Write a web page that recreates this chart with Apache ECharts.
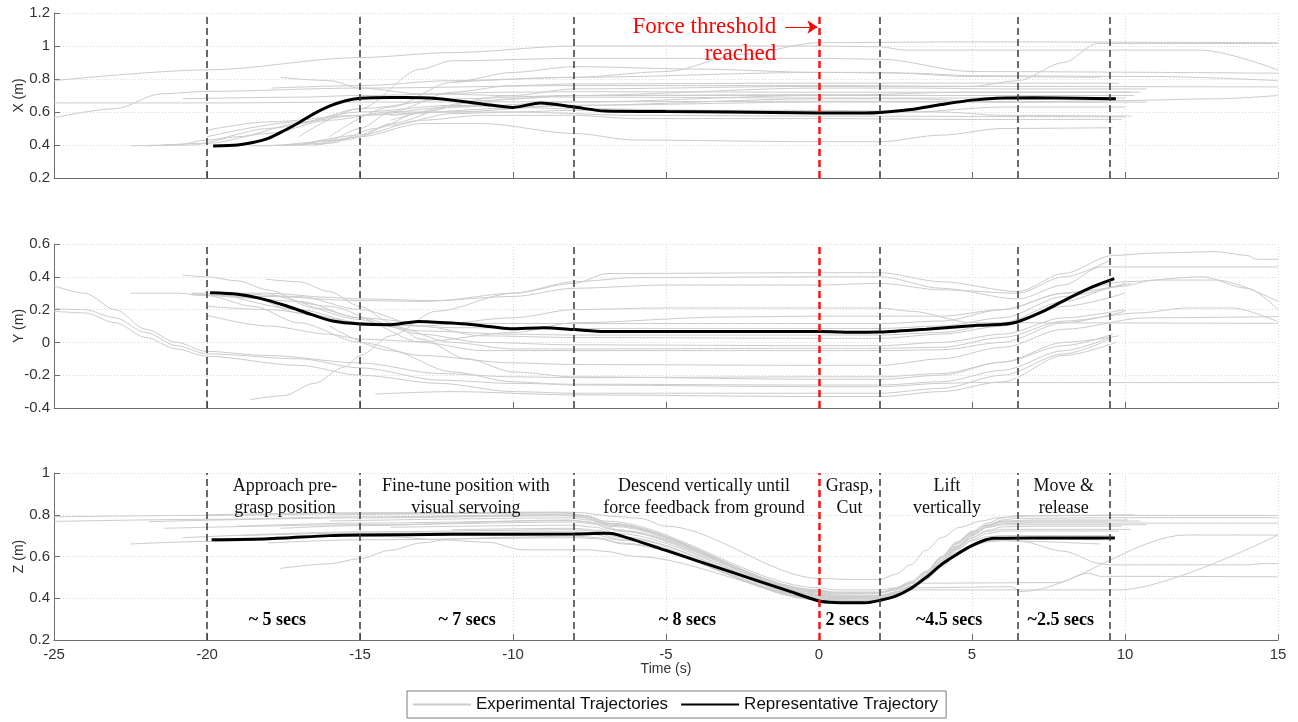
<!DOCTYPE html>
<html><head><meta charset="utf-8">
<script src="https://cdn.jsdelivr.net/npm/echarts/dist/echarts.min.js"></script>
<style>html,body{margin:0;padding:0;background:#fff}#chart{width:1298px;height:722px}</style>
</head><body><div id="chart"></div>
<script>
// ---------------- data ----------------
const timeRange = [-25, 15];
const timeStep = 5;
const panelNames = ['X (m)', 'Y (m)', 'Z (m)'];
const panelMins = [0.2, -0.4, 0.2];
const panelMaxs = [1.2, 0.6, 1.0];
const panelStep = 0.2;

const phaseBounds = [-20, -15, -8, 2, 6.5, 9.5];
const forceTime = 0;

const phaseLabels = ['Approach pre-\ngrasp position', 'Fine-tune position with\nvisual servoing', 'Descend vertically until\nforce feedback from ground', 'Grasp,\nCut', 'Lift\nvertically', 'Move &\nrelease'];
const phaseLabelTimes = [-17.45, -11.54, -3.76, 1.0, 4.18, 8.0];
const phaseLabelLevel = 0.885;
const durationLabels = ['~ 5 secs', '~ 7 secs', '~ 8 secs', '2 secs', '~4.5 secs', '~2.5 secs'];
const durationTimes = [-17.7, -11.5, -4.3, 0.92, 4.25, 7.9];
const durationLevel = 0.292;

const forceText = 'Force threshold\nreached';
const forceTextAt = [-1.4, 1.033];
const forceArrow = [[-1.1, 1.115], [-0.05, 1.115]];

const xRepresentative = [[-19.8,0.394],[-19,0.4],[-18.5,0.415],[-18,0.44],[-17.5,0.485],[-17,0.535],[-16.5,0.59],[-16,0.635],[-15.5,0.667],[-15,0.683],[-14,0.688],[-13,0.686],[-12.5,0.682],[-12,0.672],[-11,0.649],[-10,0.628],[-9.1,0.655],[-8,0.63],[-7,0.606],[-5,0.603],[-3,0.6],[0,0.594],[1.5,0.594],[2,0.597],[3,0.615],[4,0.645],[5,0.672],[5.8,0.684],[7,0.686],[8.5,0.684],[9.7,0.68]];
const yRepresentative = [[-19.9,0.302],[-19,0.293],[-18.3,0.27],[-17.5,0.228],[-16.6,0.171],[-15.9,0.13],[-15,0.112],[-14,0.108],[-13.1,0.128],[-12,0.118],[-11,0.102],[-10.1,0.083],[-9,0.09],[-8,0.078],[-7,0.066],[-4,0.066],[0,0.066],[1.3,0.062],[2,0.063],[3.5,0.08],[5.2,0.104],[6,0.11],[6.5,0.126],[7.3,0.187],[8.1,0.264],[8.95,0.34],[9.65,0.389]];
const zRepresentative = [[-19.85,0.68],[-18,0.685],[-16,0.7],[-15,0.703],[-12,0.706],[-8,0.708],[-7,0.711],[-6.6,0.705],[-5,0.629],[-3,0.532],[-1,0.435],[0,0.387],[0.5,0.38],[1.5,0.378],[2,0.39],[2.5,0.41],[3,0.447],[3.5,0.5],[4.05,0.567],[4.5,0.61],[4.93,0.647],[5.3,0.672],[5.7,0.687],[7,0.689],[9.67,0.689]];

const xExperimental = [
  [[-25,0.79],[-20,0.855],[-15,0.93],[-12,0.96],[-8,1.0],[0,1.0],[2,0.995],[2.8,0.975],[12.5,0.975],[15,0.855]],
  [[-25,0.565],[-23,0.62],[-21.5,0.71],[-20,0.725],[-15,0.745],[-8,0.76],[0,0.76],[5,0.755],[15,0.752]],
  [[-25,0.655],[-20,0.655],[-15,0.66],[-8,0.662],[0,0.665],[9.4,0.66]],
  [[-22.5,0.395],[-21,0.4],[-20,0.43],[-18,0.5],[-15,0.6],[-12,0.64],[-8,0.62],[0,0.6],[3,0.6],[6,0.63],[10,0.63]],
  [[-22,0.395],[-20.5,0.4],[-19,0.45],[-17,0.53],[-15,0.62],[-12,0.68],[-8,0.7],[0,0.7],[5,0.72],[10.5,0.72]],
  [[-21.5,0.4],[-20,0.41],[-18,0.47],[-16,0.55],[-14,0.6],[-10,0.6],[-6,0.58],[0,0.575],[10,0.57]],
  [[-20.8,0.68],[-17,0.69],[-15,0.7],[-10,0.72],[-8,0.723],[0,0.72],[6,0.72],[10.2,0.72]],
  [[-18.6,0.395],[-17,0.4],[-16,0.43],[-15,0.5],[-14,0.6],[-12,0.72],[-10,0.76],[-8,0.77],[0,0.775],[4,0.775],[9.8,0.775]],
  [[-18.4,0.395],[-16.5,0.4],[-15,0.45],[-14,0.53],[-12,0.63],[-10,0.68],[-8,0.7],[0,0.705],[4,0.7],[10.3,0.7]],
  [[-18,0.395],[-16,0.41],[-14.5,0.5],[-13,0.6],[-11,0.67],[-8,0.7],[0,0.745],[3,0.745],[6,0.74],[10.7,0.74]],
  [[-17.5,0.4],[-15.5,0.43],[-14,0.52],[-12,0.59],[-10,0.6],[-8,0.61],[0,0.61],[4,0.6],[6,0.58],[10.2,0.575]],
  [[-17,0.4],[-15,0.46],[-13,0.55],[-11,0.58],[-8,0.58],[-6,0.56],[0,0.56],[5,0.555],[9.9,0.555]],
  [[-16.5,0.4],[-15,0.45],[-13,0.53],[-11,0.53],[-8,0.47],[-6,0.43],[0,0.42],[2,0.42],[4,0.46],[6,0.5],[9.6,0.505]],
  [[-17.9,0.745],[-15,0.76],[-12,0.79],[-8,0.81],[0,0.84],[2,0.84],[5,0.815],[9.2,0.81]],
  [[-17.6,0.81],[-16,0.79],[-15,0.745],[-13,0.71],[-8,0.69],[0,0.685],[6,0.685],[10,0.685]],
  [[-17,0.45],[-15,0.62],[-13,0.86],[-12,0.91],[-8,0.925],[0,0.925],[2,0.92],[5,0.845],[15,0.835]],
  [[-16,0.45],[-14,0.63],[-12,0.78],[-10,0.84],[-8,0.875],[-4,0.86],[0,0.84],[3,0.835],[5,0.82],[11,0.815],[15,0.79]],
  [[-12,0.78],[-8,0.81],[-5,0.845],[-2.5,0.95],[0,1.02],[5,1.025],[15,1.02]],
  [[-14,0.55],[-10,0.7],[-8,0.74],[0,0.755],[5,0.755],[6.5,0.79],[8,0.9],[9.1,1.015],[15,1.015]],
  [[-20,0.49],[-18,0.54],[-15,0.58],[-12,0.6],[-8,0.64],[0,0.68],[3,0.68],[6,0.66],[10.7,0.66]],
  [[-20,0.45],[-17,0.54],[-15,0.58],[-12,0.63],[-8,0.66],[0,0.7],[5,0.7],[9.9,0.7]],
  [[-14,0.58],[-8,0.64],[0,0.66],[6,0.66],[10,0.67],[13,0.68],[15,0.7]]
];

const yExperimental = [
  [[-25,0.345],[-24,0.3],[-23,0.2],[-22,0.08],[-21,0.0],[-20,-0.055],[-18,-0.08],[-15,-0.125],[-12.4,-0.19],[-10,-0.21],[-8,-0.215],[0,-0.21],[2,-0.21],[4,-0.19],[6,-0.12],[8,-0.02],[9.6,0.05]],
  [[-25,0.205],[-24,0.2],[-23,0.15],[-22,0.06],[-21,-0.02],[-20,-0.07],[-17,-0.1],[-15,-0.155],[-12.4,-0.23],[-10,-0.25],[-8,-0.255],[0,-0.26],[2,-0.26],[4,-0.24],[6,-0.17],[8,-0.05],[9.5,0.03]],
  [[-25,0.19],[-24,0.18],[-23,0.12],[-22,0.03],[-21,-0.04],[-20,-0.085],[-17,-0.14],[-15,-0.2],[-12.4,-0.25],[-10,-0.3],[-8,-0.31],[0,-0.31],[2,-0.31],[4,-0.28],[6,-0.2],[8,-0.07],[9.5,0.02]],
  [[-22.5,0.3],[-21,0.3],[-20,0.285],[-18.5,0.22],[-17,0.12],[-15,0.0],[-13,-0.08],[-10,-0.125],[-8,-0.135],[0,-0.14],[2,-0.14],[4,-0.1],[6,-0.03],[8,0.08],[10.7,0.15],[15,0.157]],
  [[-20.8,0.41],[-20,0.4],[-19,0.375],[-18,0.32],[-16.5,0.21],[-15,0.15],[-13,0.12],[-10,0.115],[-8,0.115],[0,0.115],[2,0.115],[4,0.13],[6,0.2],[8,0.3],[10.2,0.36]],
  [[-18.1,0.386],[-17,0.37],[-16,0.31],[-15,0.22],[-14,0.12],[-13,0.02],[-11.5,-0.1],[-10,-0.18],[-8,-0.21],[0,-0.225],[2,-0.225],[4,-0.2],[6,-0.12],[8,0.0],[9.8,0.04]],
  [[-18.6,-0.35],[-17.5,-0.325],[-16.5,-0.25],[-15.5,-0.15],[-15,-0.08],[-14,0.04],[-12.5,0.19],[-10,0.3],[-8,0.36],[-6.9,0.42],[0,0.425],[2,0.425],[4,0.37],[6.5,0.31],[8,0.42],[9.6,0.53],[11,0.545],[13,0.553],[14,0.53],[14.3,0.507],[15,0.507]],
  [[-14.5,-0.315],[-12,-0.3],[-8,-0.32],[0,-0.33],[2,-0.33],[4,-0.3],[6,-0.24],[8,-0.08],[9.7,0.0]],
  [[-20.5,0.3],[-18,0.3],[-16,0.275],[-15,0.265],[-12.5,0.255],[-10,0.3],[-8,0.37],[-6,0.395],[0,0.4],[2,0.4],[4,0.33],[6.5,0.265],[8,0.35],[9.2,0.46],[15,0.46]],
  [[-20.5,0.29],[-18,0.28],[-15,0.255],[-13,0.25],[-10,0.28],[-8,0.33],[-5,0.35],[0,0.35],[2,0.36],[4,0.32],[6.5,0.3],[8,0.4],[9.5,0.5]],
  [[-20.5,0.3],[-18.5,0.27],[-17,0.18],[-15,0.12],[-13,0.1],[-10,0.15],[-8,0.2],[-5,0.21],[0,0.21],[2,0.21],[3,0.19],[5,0.12],[15,0.116]],
  [[-20,0.165],[-18,0.1],[-16,0.05],[-15,0.02],[-13,0.005],[-10,0.06],[-8,0.12],[-3,0.155],[0,0.16],[2,0.16],[4,0.16],[6,0.2],[8,0.3],[10,0.37],[12.5,0.4],[14,0.33],[15,0.2]],
  [[-19,0.27],[-17,0.2],[-15,0.12],[-13,0.07],[-10,0.05],[-8,0.045],[0,0.045],[2,0.045],[4,0.06],[6,0.12],[8,0.25],[9.8,0.34],[11,0.38],[13,0.38],[15,0.25]],
  [[-19,0.3],[-17,0.28],[-15,0.2],[-13,0.1],[-11,0.04],[-8,0.03],[0,0.025],[2,0.025],[4,0.05],[6,0.1],[8,0.22],[10,0.3]],
  [[-19.5,0.29],[-17,0.25],[-15,0.15],[-13,0.05],[-11,0.0],[-8,-0.015],[0,-0.02],[2,-0.02],[4,0.0],[6,0.05],[8,0.15],[10,0.2]],
  [[-18,0.3],[-16,0.22],[-14,0.1],[-12,0.0],[-10,-0.04],[-8,-0.04],[0,-0.036],[2,-0.036],[4,-0.03],[6,0.03],[8,0.13],[10.5,0.18],[12,0.21],[13.5,0.21],[15,0.126]],
  [[-17,0.25],[-15,0.14],[-13,0.0],[-11,-0.05],[-8,-0.05],[0,-0.05],[2,-0.05],[4,-0.045],[6,0.0],[8,0.12],[10,0.19]],
  [[-16,0.1],[-14,-0.05],[-12,-0.18],[-10,-0.24],[-8,-0.26],[0,-0.27],[2,-0.27],[4,-0.25],[5,-0.245],[15,-0.245]],
  [[-20,0.22],[-18,0.2],[-15,0.12],[-12,0.09],[-8,0.085],[0,0.085],[2,0.085],[4,0.1],[6,0.15],[8,0.28],[10,0.36]]
];

const zExperimental = [
  [[-25,0.79],[-20,0.797],[-15,0.805],[-8.5,0.812],[-7.8,0.8],[-7,0.77],[0,0.45],[0.5,0.44],[2,0.44],[2.5,0.45],[3,0.48],[3.5,0.53],[4,0.6],[4.5,0.67],[5,0.72],[5.5,0.76],[6,0.785],[6.5,0.795],[10,0.797],[15,0.797]],
  [[-25,0.768],[-20,0.778],[-15,0.79],[-8.5,0.8],[-7.8,0.79],[-7,0.76],[0,0.44],[0.5,0.425],[2,0.425],[2.5,0.44],[3,0.47],[3.5,0.52],[4,0.59],[4.5,0.66],[5,0.71],[5.5,0.75],[6,0.775],[6.5,0.783],[10,0.786],[15,0.786]],
  [[-21.9,0.767],[-15,0.785],[-8.3,0.795],[-7.6,0.785],[-6.8,0.75],[0,0.43],[0.5,0.415],[2,0.415],[2.5,0.43],[3,0.46],[3.5,0.51],[4,0.58],[4.5,0.65],[5,0.7],[5.5,0.74],[6,0.757],[7,0.76],[15,0.76]],
  [[-21.4,0.735],[-15,0.752],[-8,0.765],[-7.3,0.755],[-6.5,0.72],[0,0.425],[0.5,0.41],[2,0.41],[2.5,0.425],[3,0.455],[3.5,0.505],[4,0.57],[4.5,0.64],[5,0.69],[5.5,0.725],[6,0.742],[7,0.745],[9.9,0.745]],
  [[-22.5,0.66],[-20,0.672],[-15,0.7],[-8,0.712],[-7.3,0.705],[-6.6,0.68],[0,0.395],[0.5,0.385],[2,0.388],[2.5,0.41],[3,0.445],[3.5,0.495],[4,0.56],[4.5,0.61],[5,0.65],[5.5,0.675],[6,0.685],[9.3,0.68]],
  [[-20.8,0.69],[-15,0.718],[-8,0.728],[-7.2,0.72],[-6.5,0.69],[0,0.41],[0.5,0.398],[2,0.4],[2.5,0.42],[3,0.455],[3.5,0.51],[4,0.58],[4.5,0.645],[5,0.69],[5.5,0.72],[6,0.73],[10.2,0.73]],
  [[-17.6,0.543],[-16,0.565],[-15,0.59],[-14,0.63],[-13,0.665],[-12,0.685],[-10,0.692],[-8,0.698],[-7.2,0.69],[-6.5,0.665],[0,0.4],[0.5,0.39],[2,0.392],[2.5,0.41],[3,0.44],[3.5,0.49],[4,0.55],[4.5,0.61],[5,0.65],[5.5,0.67],[6,0.675],[9.2,0.66]],
  [[-18,0.665],[-15,0.68],[-8,0.69],[-7.2,0.685],[-6.4,0.66],[0,0.392],[0.5,0.383],[2,0.386],[2.5,0.405],[3,0.44],[3.5,0.49],[4,0.56],[4.5,0.63],[5,0.675],[5.5,0.695],[6,0.7],[9.6,0.7]],
  [[-17.6,0.735],[-15,0.748],[-8.2,0.775],[-7.5,0.765],[-6.8,0.73],[0,0.418],[0.5,0.405],[2,0.405],[2.5,0.42],[3,0.45],[3.5,0.5],[4,0.57],[4.5,0.64],[5,0.7],[5.5,0.745],[6,0.765],[7,0.77],[10.5,0.77]],
  [[-20,0.8],[-15,0.81],[-8,0.812],[-6.5,0.79],[-5.85,0.783],[-5,0.745],[0,0.495],[1,0.49],[2,0.49],[2.5,0.515],[3,0.56],[3.5,0.63],[4,0.69],[4.6,0.74],[5.3,0.77],[5.9,0.787],[7,0.795],[10.3,0.8]],
  [[-16,0.7],[-14,0.695],[-12.4,0.68],[-10.8,0.668],[-9.7,0.632],[-7.5,0.632],[-7,0.625],[-6,0.6],[0,0.41],[0.5,0.402],[2,0.402],[2.5,0.42],[3,0.452],[3.5,0.505],[4,0.57],[4.5,0.635],[5,0.68],[5.5,0.71],[6,0.722],[9.8,0.722]],
  [[-19,0.7],[-15,0.712],[-8,0.718],[-7.2,0.71],[-6.5,0.68],[0,0.4],[0.5,0.39],[2,0.392],[2.5,0.41],[3,0.445],[3.5,0.5],[4,0.565],[4.5,0.62],[5,0.655],[5.5,0.675],[6,0.68],[6.6,0.672],[8,0.625],[9.2,0.566],[9.5,0.56],[14,0.56],[14.5,0.566],[15,0.566]],
  [[-16,0.77],[-8.2,0.785],[-7.5,0.775],[-6.8,0.745],[0,0.43],[0.5,0.42],[2,0.425],[2.5,0.45],[3,0.472],[7.8,0.475],[8.8,0.52],[9.2,0.505],[15,0.503]],
  [[-14,0.74],[-8,0.75],[-7.3,0.74],[-6.6,0.71],[0,0.415],[0.5,0.405],[2,0.41],[2.5,0.43],[3,0.45],[6.3,0.455],[6.6,0.432],[12,0.703],[15,0.703]],
  [[-12,0.728],[-8,0.735],[-7.2,0.725],[-6.5,0.695],[0,0.405],[0.5,0.395],[2,0.4],[2.5,0.42],[3,0.44],[9.8,0.44],[15,0.703]],
  [[-16,0.8],[-8.3,0.808],[-7.6,0.795],[-6.9,0.76],[0,0.435],[0.5,0.425],[2,0.425],[2.5,0.44],[3,0.47],[3.5,0.52],[4,0.59],[4.5,0.66],[5,0.715],[5.5,0.752],[6,0.77],[7,0.775],[10.1,0.775]],
  [[-13,0.79],[-8.2,0.8],[-7.5,0.79],[-6.8,0.755],[0,0.438],[0.5,0.43],[2,0.43],[2.5,0.445],[3,0.475],[3.5,0.525],[4,0.595],[4.5,0.665],[5,0.715],[5.5,0.75],[6,0.765],[9.5,0.765]],
  [[-19,0.745],[-15,0.76],[-8,0.772],[-7.2,0.76],[-6.5,0.725],[0,0.42],[0.5,0.41],[2,0.41],[2.5,0.43],[3,0.46],[3.5,0.51],[4,0.58],[4.5,0.65],[5,0.705],[5.5,0.74],[6,0.752],[10.7,0.752]]
];

// ---------------- layout / style ----------------
const gridTops = [13, 244, 473];
const gridHeights = [165, 164, 167];
const sansFont = 'Liberation Sans, Arial, sans-serif';
const serifFont = 'Liberation Serif, Times New Roman, serif';
const axisColor = '#6e6e6e';
const gridLineStyle = { color: '#d9d9d9', type: [1, 2], width: 1 };

const experimentalSets = [xExperimental, yExperimental, zExperimental];
const representativeSets = [xRepresentative, yRepresentative, zRepresentative];

const chart = echarts.init(document.getElementById('chart'), null, { renderer: 'canvas' });

const grids = gridTops.map((top, i) => ({ left: 54, right: 20, top: top, height: gridHeights[i], outerBoundsMode: 'none', containLabel: false }));

const xAxes = gridTops.map((_, i) => ({
  type: 'value', gridIndex: i, min: timeRange[0], max: timeRange[1], interval: timeStep,
  axisLine: { show: true, onZero: false, lineStyle: { color: axisColor, width: 1 } },
  axisTick: { show: true, inside: true, length: 6, lineStyle: { color: axisColor } },
  axisLabel: { show: i === 2, color: '#333', fontSize: 15, fontFamily: sansFont, margin: 7 },
  splitLine: { show: true, lineStyle: gridLineStyle },
  name: i === 2 ? 'Time (s)' : '', nameLocation: 'middle', nameGap: 22, nameMoveOverlap: false,
  nameTextStyle: { color: '#333', fontSize: 14, fontFamily: sansFont }
}));

const yAxes = gridTops.map((_, i) => ({
  type: 'value', gridIndex: i, min: panelMins[i], max: panelMaxs[i], interval: panelStep,
  axisLine: { show: true, onZero: false, lineStyle: { color: axisColor, width: 1 } },
  axisTick: { show: true, inside: true, length: 6, lineStyle: { color: axisColor } },
  axisLabel: { color: '#333', fontSize: 15, fontFamily: sansFont, margin: 4 },
  splitLine: { show: true, lineStyle: gridLineStyle },
  name: panelNames[i], nameLocation: 'middle', nameGap: 28, nameMoveOverlap: false,
  nameTextStyle: { color: '#333', fontSize: 14, fontFamily: sansFont }
}));

const series = [];
experimentalSets.forEach((set, i) => {
  set.forEach(tr => {
    series.push({
      type: 'line', name: 'Experimental Trajectories', xAxisIndex: i, yAxisIndex: i,
      data: tr, symbol: 'none', showSymbol: false, smooth: 0.3, smoothMonotone: 'x',
      itemStyle: { color: '#c8c8c8' },
      lineStyle: { color: '#cccccc', width: 1 }, silent: true, z: 2, animation: false
    });
  });
});

const dashedMarks = phaseBounds.map(t => ({ xAxis: t, lineStyle: { color: '#3a3a3a', type: [7, 4], width: 1.5 } }))
  .concat([{ xAxis: forceTime, lineStyle: { color: '#ff1010', type: [7, 4], width: 2.5 } }]);

representativeSets.forEach((rep, i) => {
  series.push({
    type: 'line', name: 'Representative Trajectory', xAxisIndex: i, yAxisIndex: i,
    data: rep, symbol: 'none', showSymbol: false, smooth: 0.25,
    itemStyle: { color: '#000000' },
    lineStyle: { color: '#000000', width: 3 }, silent: true, z: 4, animation: false,
    markLine: { silent: true, symbol: ['none', 'none'], label: { show: false }, animation: false, data: dashedMarks }
  });
});

const plainLabel = { textBorderWidth: 0, textBorderColor: 'transparent', textShadowBlur: 0, opacity: 1 };

// phase text annotations (bottom panel)
series.push({
  type: 'scatter', xAxisIndex: 2, yAxisIndex: 2, symbolSize: 0, silent: true, z: 6, animation: false,
  itemStyle: { opacity: 1, color: '#111' },
  data: phaseLabelTimes.map((t, k) => [t, phaseLabelLevel, phaseLabels[k]]),
  label: Object.assign({ show: true, position: 'inside', formatter: p => p.data[2], color: '#111111', fontSize: 18, lineHeight: 22, fontFamily: serifFont, align: 'center', verticalAlign: 'middle' }, plainLabel)
});
series.push({
  type: 'scatter', xAxisIndex: 2, yAxisIndex: 2, symbolSize: 0, silent: true, z: 6, animation: false,
  itemStyle: { opacity: 1, color: '#000' },
  data: durationTimes.map((t, k) => [t, durationLevel, durationLabels[k]]),
  label: Object.assign({ show: true, position: 'inside', formatter: p => p.data[2], color: '#000000', fontSize: 18, fontWeight: 'bold', fontFamily: serifFont, align: 'center', verticalAlign: 'middle' }, plainLabel)
});
// force threshold annotation (top panel)
series.push({
  type: 'scatter', xAxisIndex: 0, yAxisIndex: 0, symbolSize: 0, silent: true, z: 6, animation: false,
  itemStyle: { opacity: 1, color: '#ff0000' },
  data: [[forceTextAt[0], forceTextAt[1], forceText]],
  label: Object.assign({ show: true, position: 'left', distance: 0, formatter: p => p.data[2], color: '#ff0000', fontSize: 23, lineHeight: 27, fontFamily: serifFont, align: 'right', verticalAlign: 'middle' }, plainLabel),
  markLine: {
    silent: true, animation: false, symbol: ['none', 'arrow'], symbolSize: 10, label: { show: false },
    itemStyle: { color: '#ff0000' },
    lineStyle: { color: '#ff0000', type: 'solid', width: 1.2, opacity: 1 },
    data: [[{ coord: forceArrow[0] }, { coord: forceArrow[1] }]]
  }
});

const option = {
  backgroundColor: '#ffffff',
  animation: false,
  grid: grids,
  xAxis: xAxes,
  yAxis: yAxes,
  legend: {
    top: 691, left: 407, orient: 'horizontal', selectedMode: false,
    data: ['Experimental Trajectories', 'Representative Trajectory'],
    itemWidth: 58, itemHeight: 14, itemGap: 12, padding: [5, 8, 5, 5],
    borderColor: '#7a7a7a', borderWidth: 1, borderRadius: 0,
    itemStyle: { opacity: 0 },
    textStyle: { fontSize: 17, fontFamily: sansFont, color: '#111' }
  },
  series: series
};
chart.setOption(option);
</script></body></html>
